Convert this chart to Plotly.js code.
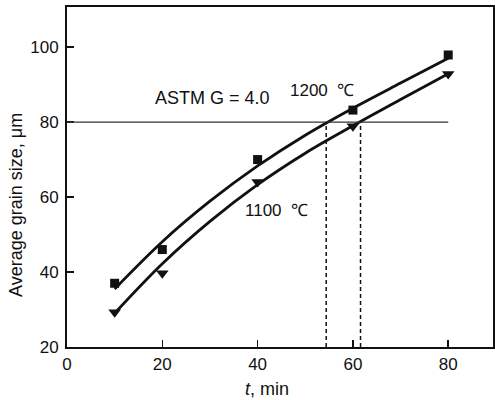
<!DOCTYPE html>
<html>
<head>
<meta charset="utf-8">
<script src="https://cdn.plot.ly/plotly-3.0.1.min.js"></script>
<style>html,body{margin:0;padding:0;background:#fff;}#chart{width:495px;height:400px;}</style>
</head>
<body>
<div id="chart"></div>
<script>
// Measured points
var timeMin = [10, 20, 40, 60, 80];
var size1200 = [37, 46, 70, 83.2, 97.9];
var size1100 = [29.3, 39.7, 64, 78.9, 92.8];

// Fitted curves
var curveT = [10, 20, 30, 40, 50, 60, 70, 80];
var curve1200 = [35.5, 48.1, 58.9, 68.3, 76.5, 83.7, 90.4, 97.0];
var curve1100 = [29, 42.2, 53.5, 63.3, 71.7, 79.0, 86.0, 92.9];

// ASTM G = 4.0 level and crossing times
var astmLevel = 80;
var astmLineEnd = 80;
var crossTimes = [54.4, 61.6];

var xTicks = [0, 20, 40, 60, 80];
var yTicks = [20, 40, 60, 80, 100];

var FONT = 'Liberation Sans, Arial, Helvetica, sans-serif';
var INK = '#111';

var traces = [
  {x: curveT, y: curve1200, mode: 'lines', line: {color: INK, width: 2.8, shape: 'spline', smoothing: 1}, hoverinfo: 'skip'},
  {x: curveT, y: curve1100, mode: 'lines', line: {color: INK, width: 2.8, shape: 'spline', smoothing: 1}, hoverinfo: 'skip'},
  {x: timeMin, y: size1200, mode: 'markers', marker: {symbol: 'square', size: 9, color: INK}},
  {x: timeMin, y: size1100, mode: 'markers', marker: {symbol: 'triangle-down', size: 11, color: INK}}
];

var shapes = [
  {type: 'line', xref: 'x', yref: 'y', x0: 0, x1: astmLineEnd, y0: astmLevel, y1: astmLevel, line: {color: '#333', width: 1.2}}
];
crossTimes.forEach(function (t) {
  shapes.push({type: 'line', xref: 'x', yref: 'y', x0: t, x1: t, y0: 20, y1: astmLevel, line: {color: INK, width: 1.5, dash: '4px,3px'}});
});

var plotW = 495 - 67 - 2, plotH = 400 - 7 - 53;

var layout = {
  width: 495, height: 400,
  margin: {l: 67, r: 2, t: 7, b: 53},
  paper_bgcolor: '#fff', plot_bgcolor: '#fff',
  showlegend: false,
  font: {family: FONT, color: INK, size: 17},
  xaxis: {
    range: [0, 89.4], tickvals: xTicks, ticktext: xTicks.map(String),
    ticks: 'inside', ticklen: 7, tickwidth: 1.5, tickcolor: INK,
    showline: true, linewidth: 2, linecolor: INK, mirror: true,
    showgrid: false, zeroline: false, ticklabelstandoff: 1,
    tickfont: {size: 17, family: FONT, color: INK}
  },
  yaxis: {
    range: [20, 110.7], tickvals: yTicks, ticktext: yTicks.map(String),
    ticks: 'inside', ticklen: 7, tickwidth: 1.5, tickcolor: INK,
    showline: true, linewidth: 2, linecolor: INK, mirror: true,
    showgrid: false, zeroline: false, ticklabelstandoff: 3,
    tickfont: {size: 17, family: FONT, color: INK}
  },
  shapes: shapes,
  annotations: [
    {text: 'ASTM G = 4.0', x: 18.0, y: 86.3, xref: 'x', yref: 'y', xanchor: 'left', yanchor: 'middle', showarrow: false, font: {size: 18, family: FONT, color: INK}},
    {text: '1200  ℃', x: 46.4, y: 88.4, xref: 'x', yref: 'y', xanchor: 'left', yanchor: 'middle', showarrow: false, font: {size: 17, family: FONT, color: INK}},
    {text: '1100  ℃', x: 36.9, y: 56.5, xref: 'x', yref: 'y', xanchor: 'left', yanchor: 'middle', showarrow: false, font: {size: 17, family: FONT, color: INK}},
    {text: '<i>t</i>, min', x: (267 - 67) / plotW, y: (400 - 53 - 389) / plotH, xref: 'paper', yref: 'paper', xanchor: 'center', yanchor: 'middle', showarrow: false, font: {size: 18, family: FONT, color: INK}},
    {text: 'Average grain size, μm', x: (16 - 67) / plotW, y: (400 - 53 - 205) / plotH, xref: 'paper', yref: 'paper', xanchor: 'center', yanchor: 'middle', showarrow: false, textangle: -90, font: {size: 18, family: FONT, color: INK}}
  ]
};

Plotly.newPlot('chart', traces, layout, {staticPlot: true, displayModeBar: false});
</script>
</body>
</html>
